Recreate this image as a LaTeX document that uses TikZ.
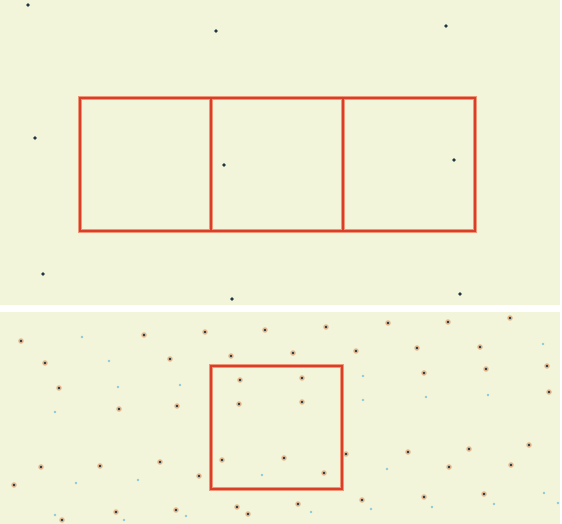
\documentclass[tikz,border=0pt]{standalone}
\usepackage{xcolor}
\usepackage{tikz}
\definecolor{paper}{RGB}{243,245,218}
\definecolor{boxred}{RGB}{218,62,40}
\definecolor{boxglow}{RGB}{238,150,120}
\definecolor{stardark}{RGB}{30,55,65}
\definecolor{starhalo}{RGB}{214,140,70}
\definecolor{faintblue}{RGB}{140,200,215}

\begin{document}
\begin{tikzpicture}[
    x=0.02cm, y=-0.02cm,
    panel/.style={fill=paper, draw=none},
    fieldbox/.style={draw=boxred, line width=1.5pt, line join=miter},
    fieldglow/.style={draw=boxglow, line width=2.8pt},
    topstar/.style={fill=stardark, draw=none},
    halo/.style={fill=starhalo!60, draw=none},
    faint/.style={fill=faintblue, draw=none}
  ]
  \useasboundingbox (0,0) rectangle (562,524);
  \fill[white] (0,0) rectangle (562,524);

  % upper panel: three neighbouring fields
  \path[panel] (0,0) rectangle (560,305);
  \foreach \px/\py in {28/5, 216/31, 446/26, 35/138, 224/165, 454/160, 43/274, 232/299, 460/294}
    \fill[topstar] (\px,\py) circle (1.8);
  \draw[fieldglow] (80,98) rectangle (475,231);
  \draw[fieldglow] (211,98) -- (211,231);
  \draw[fieldglow] (343,98) -- (343,231);
  \draw[fieldbox] (80,98) rectangle (475,231);
  \draw[fieldbox] (211,98) -- (211,231);
  \draw[fieldbox] (343,98) -- (343,231);

  % lower panel: dense field
  \path[panel] (0,312) rectangle (560,524);
  \foreach \px/\py in {82/337, 109/361, 118/387, 180/385, 55/412, 76/483, 138/480, 262/475,
                       55/515, 124/520, 186/516, 543/344, 363/376, 363/400, 426/397, 488/395,
                       387/469, 311/512, 371/509, 432/507, 494/504, 544/493, 558/503}
    \fill[faint] (\px,\py) circle (1.4);
  \foreach \px/\py in {21/341, 144/335, 205/332, 265/330, 45/363, 170/359, 231/356, 59/388,
                       119/409, 177/406, 240/380, 239/404, 41/467, 100/466, 160/462, 222/460,
                       14/485, 199/476, 116/512, 176/510, 62/520, 237/507, 248/514,
                       326/327, 388/323, 448/322, 510/318, 293/353, 356/351, 417/348, 480/347,
                       424/373, 486/369, 547/366, 302/378, 302/402, 549/392, 284/458, 346/454,
                       408/452, 469/449, 529/445, 324/473, 449/467, 511/465, 298/504, 362/500,
                       424/497, 484/494} {
    \fill[halo] (\px,\py) circle (2.8);
    \fill[topstar] (\px,\py) circle (1.3);
  }
  \draw[fieldglow] (211,366) rectangle (342,489);
  \draw[fieldbox] (211,366) rectangle (342,489);
\end{tikzpicture}
\end{document}
